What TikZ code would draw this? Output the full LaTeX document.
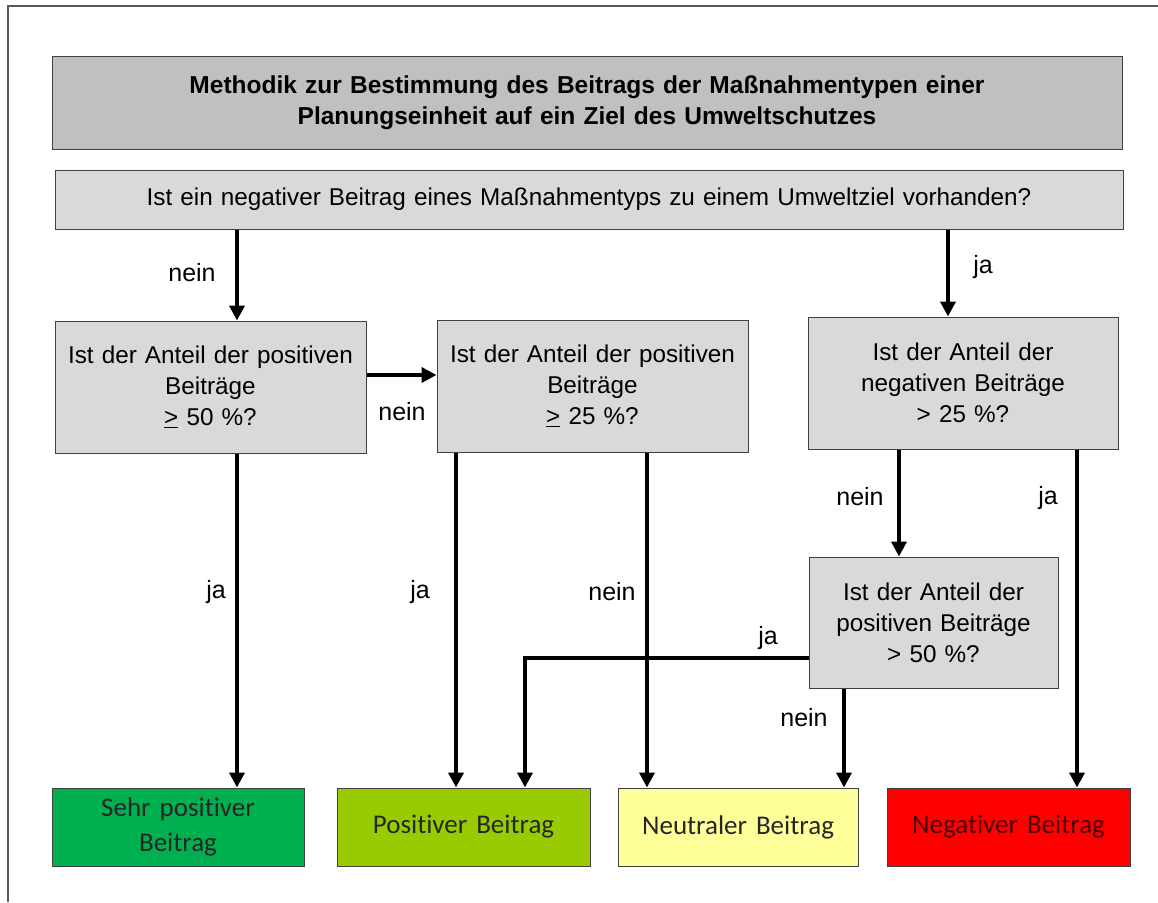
\documentclass[tikz,border=0pt]{standalone}
\usepackage{fontspec}
\setmainfont{Liberation Sans}
\newfontfamily\calibri[Ligatures=NoCommon]{Carlito}
\usepackage{xcolor}
\usetikzlibrary{shapes,arrows,arrows.meta}
\definecolor{kopgrijs}{HTML}{C0C0C0}
\definecolor{vraaggrijs}{HTML}{D9D9D9}
\definecolor{sehrgruen}{HTML}{00B050}
\definecolor{hellgruen}{HTML}{99CC00}
\definecolor{hellgelb}{HTML}{FFFF99}
\definecolor{hellrot}{HTML}{FF0000}
\definecolor{donkerrood}{HTML}{4A0000}
\tikzstyle{kop} = [rectangle, draw=black!75, line width=1pt, fill=kopgrijs, inner xsep=0pt,
text centered, font=\fontsize{24.5}{31}\selectfont\bfseries]
\tikzstyle{block} = [rectangle, draw=black!75, line width=1pt, fill=vraaggrijs, inner xsep=0pt,
text centered, font=\fontsize{24.3}{31}\selectfont]
\tikzstyle{eind} = [rectangle, draw=black!75, line width=1pt, inner xsep=0pt,
text centered, minimum height=78pt, text=black!85, font=\calibri\fontsize{27}{35}\selectfont]
\tikzstyle{pijl} = [draw, line width=4.5pt, -{Triangle[length=15pt,width=15pt]}]
\tikzstyle{antwoord} = [font=\fontsize{25}{28}\selectfont]
\tikzstyle{rand} = [draw=black!65, line width=1.5pt]

\begin{document}
\begin{tikzpicture}[x=1pt, y=-1pt]
	\useasboundingbox (0,0) rectangle (1158,902);
	\path [rand] (1158,6) -- (8,6) -- (8,902);
	
	\node [kop, text width=1070pt, minimum height=93pt] (titel) at (587,102.5)
	{Methodik zur Bestimmung des Beitrags der Maßnahmentypen einer\\ Planungseinheit auf ein Ziel des Umweltschutzes};
	\node [block, text width=1068pt, minimum height=59pt] (vraag) at (589,199.5)
	{Ist ein negativer Beitrag eines Maßnahmentyps zu einem Umweltziel vorhanden?};
	
	
	\node [block, text width=311pt, minimum height=132pt] (pos50) at (210.5,387)
	{Ist der Anteil der positiven\\ Beiträge\\ \underline{>} 50 \%?};
	\node [block, text width=311pt, minimum height=132pt] (pos25) at (592.5,386)
	{Ist der Anteil der positiven\\ Beiträge\\ \underline{>} 25 \%?};
	\node [block, text width=310pt, minimum height=132pt] (neg25) at (963,383)
	{Ist der Anteil der\\ negativen Beiträge\\ > 25 \%?};
	\node [block, text width=249pt, minimum height=131pt] (posneg) at (933.5,622.5)
	{Ist der Anteil der\\ positiven Beiträge\\ > 50 \%?};
	
	
	\node [eind, text width=252pt, fill=sehrgruen] (sehrpos) at (178,827) {Sehr positiver\\ Beitrag};
	\node [eind, text width=253pt, fill=hellgruen] (positiv) at (463.5,827) {Positiver Beitrag};
	\node [eind, text width=240pt, fill=hellgelb] (neutral) at (738,827) {Neutraler Beitrag};
	\node [eind, text width=243pt, fill=hellrot, text=donkerrood] (negativ) at (1008.5,827) {Negativer Beitrag};
	
	
	\path [pijl] (vraag.south -| 237,0) -- (pos50.north -| 237,0);
	\path [pijl] (vraag.south -| 948,0) -- (neg25.north -| 948,0);
	\path [pijl] (pos50.east |- 0,375) -- (pos25.west |- 0,375);
	
	\path [pijl] (pos50.south -| 237,0) -- (sehrpos.north -| 237,0);
	\path [pijl] (pos25.south -| 456,0) -- (positiv.north -| 456,0);
	\path [pijl] (pos25.south -| 647,0) -- (neutral.north -| 647,0);
	\path [pijl] (neg25.south -| 899,0) -- (posneg.north -| 899,0);
	\path [pijl] (neg25.south -| 1077,0) -- (negativ.north -| 1077,0);
	\path [pijl] (posneg.west |- 0,658) -| (positiv.north -| 525,0);
	\path [pijl] (posneg.south -| 844,0) -- (neutral.north -| 844,0);
	
	
	\node [antwoord] (a1) at (192,273) {nein};
	\node [antwoord] (a2) at (983,267) {ja};
	\node [antwoord] (a3) at (402,412) {nein};
	\node [antwoord] (a4) at (216,592) {ja};
	\node [antwoord] (a5) at (420,592) {ja};
	\node [antwoord] (a6) at (612,592) {nein};
	\node [antwoord] (a7) at (860,497) {nein};
	\node [antwoord] (a8) at (1048,498) {ja};
	\node [antwoord] (a9) at (768,638) {ja};
	\node [antwoord] (a10) at (804,718) {nein};
\end{tikzpicture}
\end{document}
